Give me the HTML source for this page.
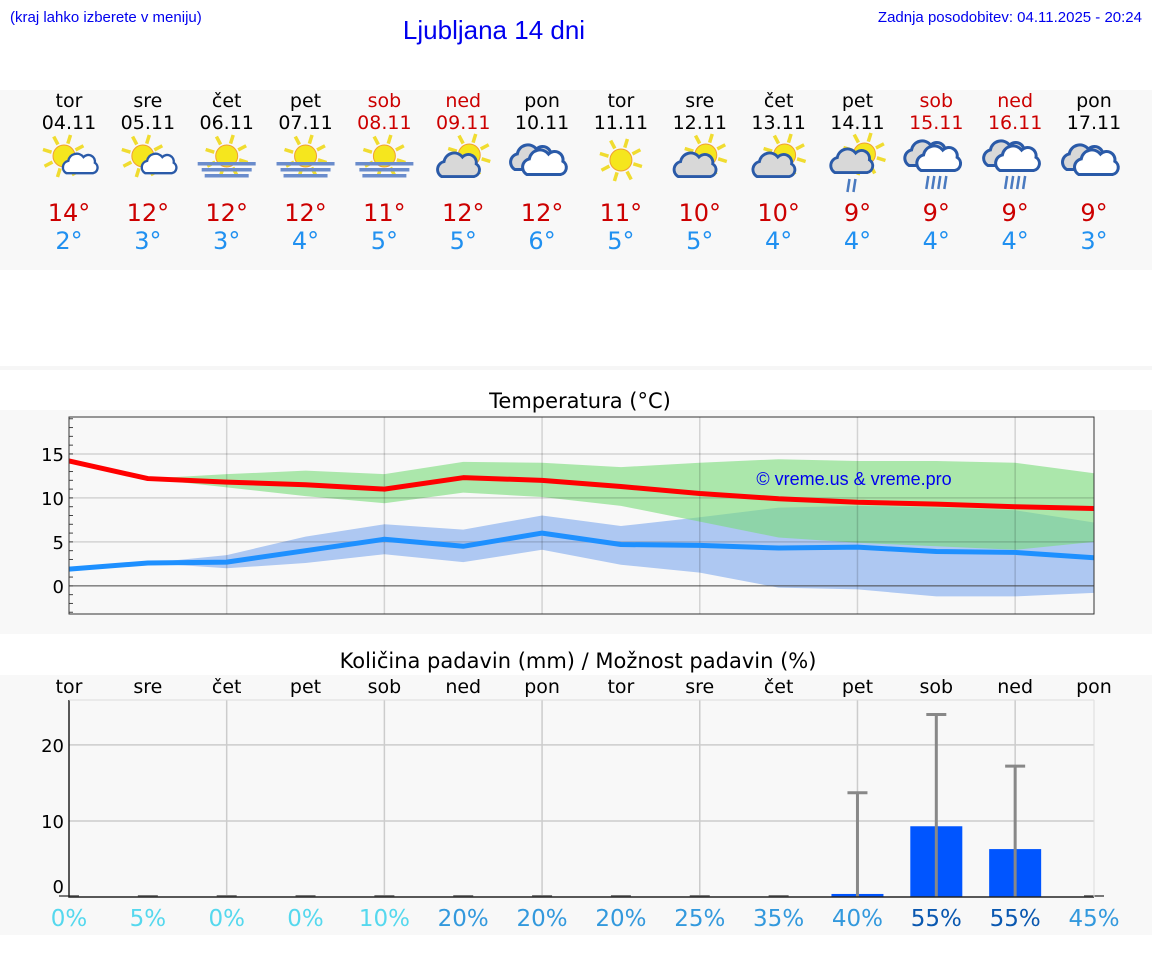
<!DOCTYPE html>
<html><head><meta charset="utf-8"><style>
html,body{margin:0;padding:0;background:#fff;}
svg{display:block;}
text{font-family:"DejaVu Sans","Liberation Sans",sans-serif;}
.lib{font-family:"Liberation Sans",sans-serif;}
</style></head><body>
<svg id="page" width="1152" height="975" xmlns="http://www.w3.org/2000/svg">
<rect x="0" y="90" width="1152" height="180" fill="#f8f8f8"/>
<rect x="0" y="366" width="1152" height="4" fill="#f6f6f6"/>
<rect x="0" y="410" width="1152" height="224" fill="#f8f8f8"/>
<rect x="0" y="675" width="1152" height="260" fill="#f8f8f8"/>
<text class="lib" x="10" y="22" font-size="15" fill="#0000ee">(kraj lahko izberete v meniju)</text>
<text class="lib" x="494" y="39" font-size="26" fill="#0000ee" text-anchor="middle">Ljubljana 14 dni</text>
<text class="lib" x="1142" y="22" font-size="15" fill="#0000ee" text-anchor="end">Zadnja posodobitev: 04.11.2025 - 20:24</text>
<g id="days"></g>
<text x="580" y="408" font-size="21" text-anchor="middle" fill="#000">Temperatura (°C)</text>
<g id="temp"></g>
<text x="578" y="668" font-size="21" text-anchor="middle" fill="#000">Količina padavin (mm) / Možnost padavin (%)</text>
<g id="prec"></g>
</svg>
<script>
const NS="http://www.w3.org/2000/svg";
const dayNames=["tor","sre","čet","pet","sob","ned","pon","tor","sre","čet","pet","sob","ned","pon"];
const dates=["04.11","05.11","06.11","07.11","08.11","09.11","10.11","11.11","12.11","13.11","14.11","15.11","16.11","17.11"];
const weekend=[0,0,0,0,1,1,0,0,0,0,0,1,1,0];
const icons=["sunCloud","sunCloud","fog","fog","fog","cloudSun","cloud","sun","cloudSun","cloudSun","cloudSunRain","rain","rain","cloud"];
const maxT=[14.2,12.2,11.8,11.5,11.0,12.3,12.0,11.3,10.5,9.9,9.5,9.3,9.0,8.8];
const minT=[1.9,2.6,2.7,4.0,5.3,4.5,6.0,4.7,4.6,4.3,4.4,3.9,3.8,3.2];
const maxLabel=[14,12,12,12,11,12,12,11,10,10,9,9,9,9];
const minLabel=[2,3,3,4,5,5,6,5,5,4,4,4,4,3];
const maxHi=[null,12.2,12.7,13.1,12.7,14.1,14.0,13.5,14.0,14.4,14.2,14.2,14.0,12.8];
const maxLo=[null,12.2,11.2,10.2,9.4,10.6,10.1,9.1,7.3,5.5,4.9,4.5,4.1,5.0];
const minHi=[null,2.6,3.5,5.6,7.0,6.4,8.0,6.8,7.8,8.9,9.1,8.9,8.6,7.2];
const minLo=[null,2.6,2.0,2.6,3.6,2.7,4.1,2.4,1.5,-0.2,-0.4,-1.2,-1.2,-0.8];
const tTicks=[0,5,10,15];
const precip=[0,0,0,0,0,0,0,0,0,0,0.4,9.3,6.3,0];
const precipMax=[0,0,0,0,0,0,0,0,0,0,13.7,24,17.2,0];
const prob=[0,5,0,0,10,20,20,20,25,35,40,55,55,45];
const pTicks=[0,10,20];

function el(tag,attrs,parent,txt){const e=document.createElementNS(NS,tag);for(const k in attrs)e.setAttribute(k,attrs[k]);if(txt!==undefined)e.textContent=txt;parent.appendChild(e);return e;}
const X0=69,X1=1094,n=14;
const xs=i=>X0+i*(X1-X0)/(n-1);

const gD=document.getElementById('days');
function icon(type,cx,cy,g){
  function sun(x,y,r){
    for(let k=0;k<8;k++){const a=k*Math.PI/4+0.3;el('line',{x1:x+Math.cos(a)*(r+2),y1:y+Math.sin(a)*(r+2),x2:x+Math.cos(a)*(r+11),y2:y+Math.sin(a)*(r+11),stroke:'#f0dc30','stroke-width':3.5},g);}
    el('circle',{cx:x,cy:y,r:r,fill:'#f5e61e',stroke:'#f0a030','stroke-width':1},g);
  }
  function cloud(x,y,s,fill){
    const p=`M${x-14*s},${y+8*s} a7 7 0 0 1 2,-13 a9 9 0 0 1 16,-4 a7 7 0 0 1 12,6 a6 6 0 0 1 -2,11 Z`;
    el('path',{d:p,fill:fill,stroke:'#2a5aa8','stroke-width':2.5,transform:`translate(${x} ${y}) scale(${s}) translate(${-x} ${-y})`},g);
  }
  function rain(x,y,c){for(let k=0;k<c;k++)el('line',{x1:x+k*6+2,y1:y,x2:x+k*6,y2:y+13,stroke:'#4a7ac0','stroke-width':2.5},g);}
  if(type==='sunCloud'){sun(cx-5,cy-4,11);cloud(cx+10,cy+6,0.95,'#fff');}
  else if(type==='fog'){sun(cx,cy-4,11);[[-29,29,0],[-25,25,6],[-22,22,12]].forEach(l=>el('rect',{x:cx+l[0],y:cy+2+l[2],width:l[1]-l[0],height:3.5,fill:'#6a8ccc'},g));}
  else if(type==='cloudSun'){sun(cx+6,cy-5,11);cloud(cx-3,cy+6,1.15,'#d8d8d8');}
  else if(type==='cloud'){cloud(cx-7,cy-2,1.2,'#d8d8d8');cloud(cx+5,cy+3,1.2,'#fff');}
  else if(type==='sun'){sun(cx,cy,11);}
  else if(type==='cloudSunRain'){sun(cx+7,cy-6,11);cloud(cx-4,cy+2,1.15,'#d8d8d8');rain(cx-10,cy+19,2);}
  else if(type==='rain'){cloud(cx-7,cy-6,1.2,'#d8d8d8');cloud(cx+5,cy-1,1.2,'#fff');rain(cx-10,cy+16,4);}
}
for(let i=0;i<n;i++){
  const x=xs(i);const col=weekend[i]?'#cc0000':'#000';
  const g=el('g',{},gD);
  
  
  const t1=el('text',{x:x,y:107,'font-size':19,'text-anchor':'middle',fill:col},g,dayNames[i]);
  
  
  const t2=el('text',{x:x,y:129,'font-size':19,'text-anchor':'middle',fill:col},g,dates[i]);
  
  
  const ig=el('g',{},g);
  
  
  icon(icons[i],x,160,ig);
  const t3=el('text',{x:x,y:221,'font-size':24,'text-anchor':'middle',fill:'#cc0000'},g,maxLabel[i]+'°');
  
  
  const t4=el('text',{x:x,y:249,'font-size':24,'text-anchor':'middle',fill:'#2090f0'},g,minLabel[i]+'°');
  
  
}

const gT=document.getElementById('temp');
const TY0=417,TY1=614,tMin=-3.2,tMax=19.2;
const ty=v=>TY1-(v-tMin)/(tMax-tMin)*(TY1-TY0);
el('rect',{x:X0,y:TY0,width:X1-X0,height:TY1-TY0,fill:'#f8f8f8'},gT);
function band(hi,lo,fill,name){
  let up=[],dn=[];
  for(let i=0;i<n;i++){if(hi[i]==null)continue;up.push(xs(i)+','+ty(hi[i]));dn.unshift(xs(i)+','+ty(lo[i]));}
  const p=el('polygon',{points:up.concat(dn).join(' '),fill:fill},gT);
  
  
}
band(minHi,minLo,'#aec8f2','min-temp-range');
band(maxHi,maxLo,'rgba(120,220,120,0.6)','max-temp-range');
for(let i=2;i<n;i+=2){const l=el('line',{x1:xs(i),x2:xs(i),y1:TY0,y2:TY1,stroke:'rgba(0,0,0,0.15)','stroke-width':1.5},gT);}
tTicks.forEach(v=>{
  const l=el('line',{x1:X0,x2:X1,y1:ty(v),y2:ty(v),stroke:v===0?'#444':'rgba(0,0,0,0.15)','stroke-width':v===0?1:1.5},gT);
  
  
  const t=el('text',{x:64,y:ty(v)+7,'font-size':18,'text-anchor':'end',fill:'#000'},gT,String(v));
  
  
});
for(let v=-3;v<=19;v++)el('line',{x1:X0,x2:X0+4,y1:ty(v),y2:ty(v),stroke:'#444','stroke-width':1},gT);
function line(vals,col,name){
  const p=el('polyline',{points:vals.map((v,i)=>xs(i)+','+ty(v)).join(' '),fill:'none',stroke:col,'stroke-width':5,'stroke-linejoin':'round'},gT);
  
  
}
line(maxT,'#ff0000','max-temp-line');
line(minT,'#1e90ff','min-temp-line');
const wm=el('text',{x:854,y:485,'font-size':18,'text-anchor':'middle',fill:'#0000ee',class:'lib'},gT,'© vreme.us & vreme.pro');


el('rect',{x:X0,y:TY0,width:X1-X0,height:TY1-TY0,fill:'none',stroke:'#333','stroke-width':1},gT);

const gP=document.getElementById('prec');
const PY0=700,PY1=897,pMax=25.9;
const py=v=>PY1-v/pMax*(PY1-PY0);
el('rect',{x:X0,y:PY0,width:X1-X0,height:PY1-PY0,fill:'#f8f8f8'},gP);
for(let i=2;i<n;i+=2){const l=el('line',{x1:xs(i),x2:xs(i),y1:PY0,y2:PY1,stroke:'#ccc','stroke-width':1.5},gP);}
pTicks.forEach(v=>{
  if(v>0){const l=el('line',{x1:X0,x2:X1,y1:py(v),y2:py(v),stroke:'#ccc','stroke-width':1.5},gP);}
  const t=el('text',{x:64,y:py(v)+(v===0?-4:7),'font-size':18,'text-anchor':'end',fill:'#000'},gP,String(v));
  
  
});
for(let i=0;i<n;i++){
  const x=xs(i);
  const t=el('text',{x:x,y:693,'font-size':19,'text-anchor':'middle',fill:'#000'},gP,dayNames[i]);
  
  
  if(precip[i]>0){
    const b=el('rect',{x:x-26,y:py(precip[i]),width:52,height:PY1-py(precip[i]),fill:'#0055ff'},gP);
    
    
  }
  if(precipMax[i]>0){
    const e=el('path',{d:`M${x},${PY1} V${py(precipMax[i])} M${x-10},${py(precipMax[i])} H${x+10}`,stroke:'#888','stroke-width':3,fill:'none'},gP);
    
    
  } else {
    el('line',{x1:x-10,x2:x+10,y1:PY1-1,y2:PY1-1,stroke:'#777','stroke-width':2},gP);
  }
  const pc=prob[i];
  const col=pc<=10?'#55d8ee':(pc<50?'#3399dd':'#0a58b0');
  const pt=el('text',{x:x,y:926,'font-size':23,'text-anchor':'middle',fill:col},gP,pc+'%');
  
  
}
el('path',{d:`M${X0},${PY0} V${PY1} H${X1}`,stroke:'#222','stroke-width':1.5,fill:'none'},gP);
el('line',{x1:X0,x2:X1,y1:PY0,y2:PY0,stroke:'#ddd','stroke-width':1},gP);
el('line',{x1:X1,x2:X1,y1:PY0,y2:PY1,stroke:'#ddd','stroke-width':1},gP);
</script>
</body></html>
